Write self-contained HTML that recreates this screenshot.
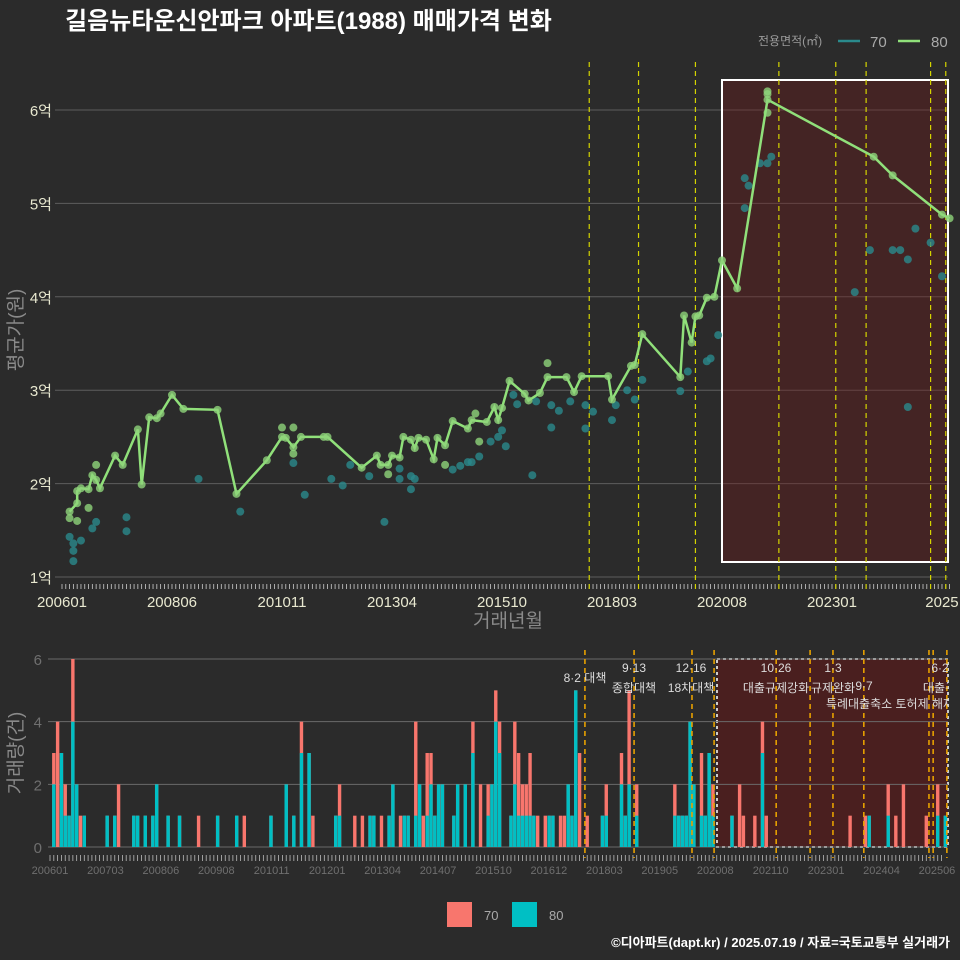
<!DOCTYPE html>
<html><head><meta charset="utf-8">
<style>
html,body{margin:0;padding:0;background:#2b2b2b;}
svg{display:block;font-family:"Liberation Sans","Noto Sans CJK KR",sans-serif;}
</style></head>
<body>
<svg id="c" width="960" height="960" viewBox="0 0 960 960">
<rect x="0" y="0" width="960" height="960" fill="#2b2b2b"/>
<text x="65" y="29" fill="#ffffff" font-size="24" font-weight="bold">길음뉴타운신안파크 아파트(1988) 매매가격 변화</text>
<g>
<text x="758" y="45" fill="#9a9a9a" font-size="12">전용면적(㎡)</text>
<line x1="838" y1="41" x2="860" y2="41" stroke="#2a8a8c" stroke-width="2.5"/>
<text x="870" y="47" fill="#aaaaaa" font-size="15">70</text>
<line x1="898" y1="41" x2="920" y2="41" stroke="#90e07a" stroke-width="2.5"/>
<text x="931" y="47" fill="#aaaaaa" font-size="15">80</text>
</g>
<text transform="translate(22,330) rotate(-90)" text-anchor="middle" fill="#8a8a8a" font-size="19">평균가(원)</text>
<text x="508" y="627" text-anchor="middle" fill="#8a8a8a" font-size="19">거래년월</text>
<text transform="translate(22,753) rotate(-90)" text-anchor="middle" fill="#8a8a8a" font-size="19">거래량(건)</text>
<g>
<rect x="447" y="902" width="25" height="25" fill="#f8766d"/>
<text x="484" y="920" fill="#aaaaaa" font-size="13">70</text>
<rect x="512" y="902" width="25" height="25" fill="#00bfc4"/>
<text x="549" y="920" fill="#aaaaaa" font-size="13">80</text>
</g>
<text x="950" y="947" text-anchor="end" fill="#ffffff" font-size="13" font-weight="bold">©디아파트(dapt.kr) / 2025.07.19 / 자료=국토교통부 실거래가</text>
<g id="topg"></g>
<g id="bot"></g>
</svg>
<script>
// ---- data (month index: 0 = 2006-01) ----
const yTicks = [1,2,3,4,5,6];
const yTickLabels = ["1억","2억","3억","4억","5억","6억"];
const xTickMonths = [0,29,58,87,116,145,174,203,232];
const xTickLabels = ["200601","200806","201011","201304","201510","201803","202008","202301","2025"];
const bxTickLabels = ["200601","200703","200806","200908","201011","201201","201304","201407","201510","201612","201803","201905","202008","202110","202301","202404","202506"];
const line80Months = [2,4,4,5,7,8,9,10,14,16,20,21,23,25,26,29,32,41,46,54,58,59,61,63,69,70,79,83,84,86,87,89,90,92,93,94,96,98,99,101,103,107,108,112,114,115,116,118,122,123,126,128,133,135,137,144,145,150,151,153,163,164,166,167,168,170,172,174,178,186,214,219,232,234];
const line80Values = [1.70,1.79,1.92,1.95,1.94,2.09,2.04,1.95,2.30,2.20,2.58,1.99,2.71,2.70,2.75,2.95,2.80,2.79,1.89,2.25,2.50,2.49,2.39,2.50,2.50,2.50,2.17,2.30,2.20,2.20,2.30,2.28,2.50,2.47,2.38,2.49,2.47,2.26,2.49,2.41,2.67,2.59,2.68,2.66,2.82,2.68,2.81,3.10,2.96,2.89,2.97,3.14,3.14,2.98,3.15,3.15,2.90,3.26,3.27,3.60,3.14,3.80,3.51,3.79,3.80,3.99,4.00,4.39,4.09,6.11,5.50,5.30,4.88,4.84];
const extra80Months = [2,4,7,9,58,61,61,86,101,109,110,128,186,186,186];
const extra80Values = [1.63,1.60,1.74,2.20,2.60,2.32,2.60,2.10,2.20,2.75,2.45,3.29,6.20,6.17,5.97];
const pts70Months = [2,3,3,3,5,8,9,17,17,36,47,61,64,71,74,76,81,85,89,89,92,93,92,103,105,107,108,110,113,115,116,117,119,120,124,125,129,129,131,134,138,140,138,145,146,149,151,153,163,165,170,171,173,180,181,180,184,186,187,209,213,219,221,223,223,225,229,232];
const pts70Values = [1.43,1.36,1.28,1.17,1.39,1.52,1.59,1.64,1.49,2.05,1.70,2.22,1.88,2.05,1.98,2.20,2.08,1.59,2.16,2.05,2.08,2.05,1.94,2.15,2.19,2.23,2.23,2.29,2.45,2.50,2.57,2.40,2.95,2.85,2.09,2.88,2.84,2.60,2.78,2.88,2.84,2.77,2.59,2.68,2.84,3.00,2.90,3.11,2.99,3.20,3.31,3.34,3.59,5.27,5.19,4.95,5.43,5.43,5.50,4.05,4.50,4.50,4.50,4.40,2.82,4.73,4.58,4.22];
const policyMonths = [139,152,167,189,204,212,229,233];
const policyMonthsBottom = [140.4,153.3,168.5,174.3,190.6,199.5,205.5,213.6,230.7,231.8,235.4];
const barMonths = [1,2,3,4,5,6,7,8,9,15,17,18,22,23,25,27,28,31,34,39,44,49,51,58,62,64,66,68,69,75,76,80,82,84,85,87,89,90,92,93,94,96,97,98,99,100,101,102,103,106,107,109,111,113,115,116,117,118,121,122,123,124,125,126,127,128,130,131,132,134,135,136,137,138,139,141,145,146,150,151,152,154,164,165,166,167,168,169,171,172,173,174,179,181,182,185,187,188,210,214,215,220,222,224,230,233,235];
const bar80 = [2,0,3,1,1,4,2,0,1,1,1,0,1,1,1,1,2,1,1,0,1,1,0,1,2,1,3,3,0,1,1,0,0,1,1,0,1,2,0,1,1,1,2,0,1,2,1,2,2,1,2,2,3,0,1,2,4,3,1,2,1,1,1,1,1,0,0,1,1,0,0,2,1,5,0,0,1,1,2,1,2,1,1,1,1,1,4,2,1,1,3,1,1,0,0,0,3,0,0,0,1,1,0,0,0,1,1];
const barTotal = [3,4,3,2,1,6,2,1,1,1,1,2,1,1,1,1,2,1,1,1,1,1,1,1,2,1,4,3,1,1,2,1,1,1,1,1,1,2,1,1,1,4,2,1,3,3,1,2,2,1,2,2,4,2,2,2,5,4,1,4,3,2,2,3,1,1,1,1,1,1,1,2,1,5,3,1,1,2,3,1,5,2,2,1,1,1,4,2,3,1,3,2,1,2,1,1,4,1,1,1,1,2,1,2,1,2,1];
const yBarTicks = [0,2,4,6];

const NS="http://www.w3.org/2000/svg";
function mk(parent,tag,attrs,name,text){const e=document.createElementNS(NS,tag);for(const k in attrs)e.setAttribute(k,attrs[k]);


if(text!==undefined)e.textContent=text;parent.appendChild(e);return e;}
const xT=m=>62+m*3.793, yT=v=>577-(v-1)*93.4;
const xB=m=>50+m*3.81, yB=v=>847-v*31.33;
const topG=document.getElementById('topg'), bot=document.getElementById('bot');

yTicks.forEach((t,i)=>{mk(topG,'line',{x1:55,x2:948,y1:yT(t),y2:yT(t),stroke:'#5e5e5e','stroke-width':1},'y-gridline');
mk(topG,'text',{x:52,y:yT(t)+6,'text-anchor':'end',fill:'#e8e8d0','font-size':15},'y-tick-label',yTickLabels[i]);});
for(let m=0;m<=234;m+=1){mk(topG,'line',{x1:xT(m),x2:xT(m),y1:584,y2:589,stroke:'#cccccc','stroke-width':0.8},'x-tick');}
xTickMonths.forEach((m,i)=>{mk(topG,'text',{x:xT(m),y:607,'text-anchor':'middle',fill:'#e8e8d0','font-size':15},'x-tick-label',xTickLabels[i]);});
mk(topG,'rect',{x:722,y:80,width:226,height:482,fill:'rgba(110,25,25,0.38)',stroke:'#ffffff','stroke-width':2},'highlight-region');
policyMonths.forEach(m=>{mk(topG,'line',{x1:xT(m),x2:xT(m),y1:62,y2:590,stroke:'#d4d400','stroke-width':1.2,'stroke-dasharray':'5,4'},'policy-line');});
pts70Months.forEach((m,i)=>{mk(topG,'circle',{cx:xT(m),cy:yT(pts70Values[i]),r:4,fill:'#2a8a8c','fill-opacity':0.8},'point-70');});
extra80Months.forEach((m,i)=>{mk(topG,'circle',{cx:xT(m),cy:yT(extra80Values[i]),r:4,fill:'#8fd47a','fill-opacity':0.8},'point-80');});
let d=line80Months.map((m,i)=>(i?'L':'M')+xT(m).toFixed(1)+','+yT(line80Values[i]).toFixed(1)).join('');
mk(topG,'path',{d:d,fill:'none',stroke:'#90e07a','stroke-width':2.5},'line-80');
line80Months.forEach((m,i)=>{mk(topG,'circle',{cx:xT(m),cy:yT(line80Values[i]),r:4,fill:'#8fd47a','fill-opacity':0.8},'point-80');});

mk(bot,'rect',{x:717,y:659,width:231,height:188,fill:'#4a1f1f',stroke:'#cccccc','stroke-width':2,'stroke-dasharray':'3,3'},'highlight-region-bottom');
yBarTicks.forEach(t=>{mk(bot,'line',{x1:48,x2:948,y1:yB(t),y2:yB(t),stroke:'#6a6a6a','stroke-width':1},'bar-gridline');
mk(bot,'text',{x:42,y:yB(t)+6,'text-anchor':'end',fill:'#6f6f6f','font-size':15},'bar-y-tick-label',String(t));});
barMonths.forEach((m,i)=>{const x=xB(m)-1.7;
mk(bot,'rect',{x:x,y:yB(barTotal[i]),width:3.4,height:yB(0)-yB(barTotal[i]),fill:'#f8766d'},'bar-70');
if(bar80[i]>0){mk(bot,'rect',{x:x,y:yB(bar80[i]),width:3.4,height:yB(0)-yB(bar80[i]),fill:'#00bfc4'},'bar-80');}});
for(let m=0;m<=234;m+=1){mk(bot,'line',{x1:xB(m),x2:xB(m),y1:855,y2:861,stroke:'#bbbbbb','stroke-width':0.8},'bar-x-tick');}
bxTickLabels.forEach((l,i)=>{mk(bot,'text',{x:xB(i*14.55),y:874,'text-anchor':'middle',fill:'#6f6f6f','font-size':11},'bar-x-tick-label',l);});
policyMonthsBottom.forEach(m=>{mk(bot,'line',{x1:xB(m),x2:xB(m),y1:650,y2:858,stroke:'#e6a000','stroke-width':1.6,'stroke-dasharray':'5,4'},'policy-line-bottom');});
const ann=[[585,682,"8·2 대책"],[634,672,"9·13"],[634,692,"종합대책"],[691,672,"12·16"],[691,692,"18차대책"],[776,672,"10·26"],[776,692,"대출규제강화"],[833,672,"1·3"],[833,692,"규제완화"],[864,690,"9·7"],[890,708,"특례대출축소 토허제 해제"],[940,672,"6·2"],[945,692,"대출규제"]];
const cp=mk(bot,'clipPath',{id:'clp'},'annotation-clip');mk(cp,'rect',{x:0,y:640,width:948,height:100},'clip-rect');
const ag=mk(bot,'g',{'clip-path':'url(#clp)'},'policy-annotations');
ann.forEach(a=>{mk(ag,'text',{x:a[0],y:a[1],'text-anchor':'middle',fill:'#dddddd','font-size':12},'policy-annotation',a[2]);});
</script>
</body></html>
